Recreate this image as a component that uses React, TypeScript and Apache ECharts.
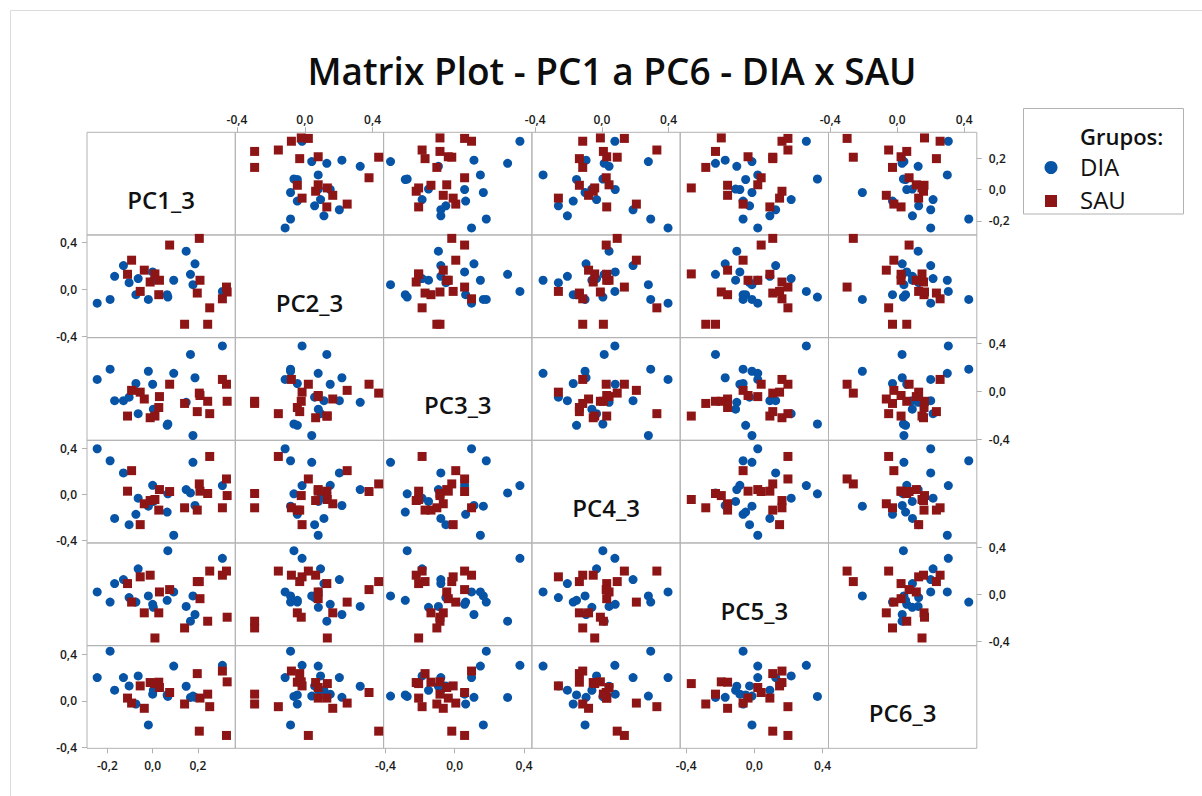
import React, { useEffect, useRef } from "react";
import * as echarts from "echarts";

// Variable names shown on the diagonal
const VARIABLES = ["PC1_3", "PC2_3", "PC3_3", "PC4_3", "PC5_3", "PC6_3"];

// Axis range of each variable (shared by its row and its column)
const RANGES: [number, number][] = [
  [-0.29, 0.365],
  [-0.41, 0.465],
  [-0.41, 0.445],
  [-0.42, 0.47],
  [-0.435, 0.435],
  [-0.41, 0.475],
];

// Tick values of each variable
const TICKS: number[][] = [
  [-0.2, 0, 0.2],
  [-0.4, 0, 0.4],
  [-0.4, 0, 0.4],
  [-0.4, 0, 0.4],
  [-0.4, 0, 0.4],
  [-0.4, 0, 0.4],
];

// Group DIA scores
const DIA_PC1 = [-0.245, -0.188, -0.168, -0.129, -0.104, -0.074, -0.064, -0.019, 0.0, 0.003, 0.064, 0.067, 0.093, 0.148, 0.167, 0.178, 0.187, 0.308];
const DIA_PC2 = [-0.116, -0.084, 0.113, 0.204, 0.058, -0.044, 0.093, -0.084, 0.15, 0.08, -0.044, -0.064, 0.079, 0.327, 0.13, 0.041, 0.219, -0.016];
const DIA_PC3 = [0.097, 0.182, -0.08, -0.08, -0.051, 0.063, -0.188, 0.165, 0.057, -0.151, -0.285, -0.274, 0.148, -0.094, 0.305, -0.37, 0.111, 0.376];
const DIA_PC4 = [0.397, 0.293, -0.207, 0.187, -0.261, -0.172, -0.032, -0.101, 0.08, -0.06, -0.152, 0.006, -0.353, 0.043, 0.014, 0.279, -0.095, 0.078];
const DIA_PC5 = [0.02, -0.066, 0.091, 0.125, -0.028, -0.066, 0.216, -0.014, -0.085, -0.11, -0.051, 0.37, 0.02, -0.103, -0.228, -0.014, -0.171, 0.305];
const DIA_PC6 = [0.2, 0.427, 0.091, 0.2, 0.128, -0.028, 0.214, -0.208, 0.057, 0.09, 0.05, 0.037, 0.299, 0.125, 0.029, 0.04, 0.03, 0.305];

// Group SAU scores
const SAU_PC1 = [-0.111, -0.093, -0.055, -0.037, -0.011, 0.01, 0.03, 0.027, 0.075, 0.141, 0.197, 0.206, 0.209, 0.243, 0.252, 0.308, 0.326, 0.329];
const SAU_PC2 = [0.13, 0.25, -0.016, 0.165, 0.064, 0.133, 0.079, -0.044, 0.379, -0.296, -0.03, 0.436, 0.079, -0.296, -0.156, -0.079, 0.021, -0.021];
const SAU_PC3 = [-0.208, 0.006, -0.009, -0.066, -0.222, -0.208, -0.046, -0.137, 0.057, -0.103, -0.171, -0.017, -0.037, -0.085, -0.188, 0.097, 0.057, -0.085];
const SAU_PC4 = [0.029, 0.207, -0.261, -0.08, -0.052, -0.043, 0.043, -0.135, 0.026, -0.115, -0.135, 0.092, 0.029, 0.009, 0.33, -0.115, 0.135, -0.009];
const SAU_PC5 = [0.091, -0.066, 0.148, -0.157, 0.162, -0.37, 0.02, -0.157, 0.04, -0.285, 0.108, 0.108, -0.037, -0.228, 0.197, 0.162, 0.197, -0.194];
const SAU_PC6 = [0.023, -0.02, 0.128, -0.065, 0.157, 0.148, 0.114, 0.16, 0.071, -0.028, 0.234, -0.262, 0.023, 0.057, -0.051, 0.256, -0.299, 0.163];

const DIA = [DIA_PC1, DIA_PC2, DIA_PC3, DIA_PC4, DIA_PC5, DIA_PC6];
const SAU = [SAU_PC1, SAU_PC2, SAU_PC3, SAU_PC4, SAU_PC5, SAU_PC6];

const GROUPS = ["DIA", "SAU"];

const BLUE = "#0754a6";
const RED = "#8e1515";
const FRAME = "#b2b2b2";
const FONT = "'Open Sans', 'Noto Sans', sans-serif";

// Matrix geometry
const X0 = 87;
const Y0 = 132.3;
const CW = 148.3;
const CH = 102.67;
const N = 6;

const fmt = (v: number) =>
  Math.abs(v) < 1e-9 ? "0,0" : v.toFixed(1).replace(".", ",");

export default function App() {
  const ref = useRef<HTMLDivElement>(null);

  useEffect(() => {
    document.body.style.margin = "0";
    const chart = echarts.init(ref.current!, null, { renderer: "svg" });

    const grids: any[] = [];
    const xAxes: any[] = [];
    const yAxes: any[] = [];
    const series: any[] = [];
    const graphics: any[] = [];

    const labelStyle = {
      fontFamily: FONT,
      fontSize: 12,
      fontWeight: 600,
      color: "#1a1a1a",
    };

    for (let r = 0; r < N; r++) {
      for (let c = 0; c < N; c++) {
        const idx = r * N + c;
        grids.push({
          left: X0 + c * CW,
          top: Y0 + r * CH,
          width: CW,
          height: CH,
          show: true,
          borderColor: FRAME,
          borderWidth: 1,
          backgroundColor: "transparent",
        });

        const showTop = r === 0 && c % 2 === 1;
        const showBottom = r === N - 1 && c % 2 === 0;
        const showX = showTop || showBottom;
        xAxes.push({
          gridIndex: idx,
          type: "value",
          min: RANGES[c][0],
          max: RANGES[c][1],
          position: r === 0 ? "top" : "bottom",
          show: showX,
          axisLine: { show: false, onZero: false },
          splitLine: { show: false },
          axisTick: {
            show: showX,
            inside: false,
            length: 5,
            customValues: TICKS[c],
            lineStyle: { color: FRAME },
          },
          axisLabel: {
            show: showX,
            margin: showTop ? 7 : 11,
            customValues: TICKS[c],
            formatter: fmt,
            ...labelStyle,
          },
        });

        const showLeft = c === 0 && r % 2 === 1;
        const showRight = c === N - 1 && r % 2 === 0;
        const showY = showLeft || showRight;
        yAxes.push({
          gridIndex: idx,
          type: "value",
          min: RANGES[r][0],
          max: RANGES[r][1],
          position: c === 0 ? "left" : "right",
          show: showY,
          axisLine: { show: false, onZero: false },
          splitLine: { show: false },
          axisTick: {
            show: showY,
            inside: false,
            length: 5,
            customValues: TICKS[r],
            lineStyle: { color: FRAME },
          },
          axisLabel: {
            show: showY,
            margin: showLeft ? 10 : 12,
            customValues: TICKS[r],
            formatter: fmt,
            ...labelStyle,
          },
        });

        if (r === c) {
          graphics.push({
            type: "text",
            x: X0 + c * CW + CW / 2,
            y: Y0 + r * CH + CH / 2 + 16,
            style: {
              text: VARIABLES[r],
              fontFamily: FONT,
              fontSize: 24,
              fontWeight: 600,
              fill: "#111",
              textAlign: "center",
              textVerticalAlign: "middle",
            },
          });
          continue;
        }

        series.push({
          type: "scatter",
          name: GROUPS[0],
          xAxisIndex: idx,
          yAxisIndex: idx,
          symbol: "circle",
          symbolSize: 9,
          itemStyle: { color: BLUE, opacity: 1 },
          z: 2,
          data: DIA[c].map((v, k) => [v, DIA[r][k]]),
        });
        series.push({
          type: "scatter",
          name: GROUPS[1],
          xAxisIndex: idx,
          yAxisIndex: idx,
          symbol: "rect",
          symbolSize: 9,
          itemStyle: { color: RED, opacity: 1 },
          z: 3,
          data: SAU[c].map((v, k) => [v, SAU[r][k]]),
        });
      }
    }

    // Title
    graphics.push({
      type: "text",
      x: 612,
      y: 70,
      style: {
        text: "Matrix Plot - PC1 a PC6 - DIA x SAU",
        fontFamily: FONT,
        fontSize: 37,
        fontWeight: 600,
        fill: "#0d0d0d",
        textAlign: "center",
        textVerticalAlign: "middle",
      },
    });

    // Legend: box, heading and the two group keys
    graphics.push({
      type: "rect",
      shape: { x: 1023.5, y: 108.5, width: 160, height: 105.5 },
      style: { fill: "#fff", stroke: FRAME, lineWidth: 1 },
      z: 0,
    });
    const legendText = (text: string, y: number, size: number, weight: number) => ({
      type: "text",
      x: 1080,
      y,
      style: {
        text,
        fontFamily: FONT,
        fontSize: size,
        lineHeight: size + 2,
        fontWeight: weight,
        fill: "#111",
        textVerticalAlign: "middle",
      },
    });
    graphics.push(legendText("Grupos:", 136, 22, 600));
    graphics.push(legendText(GROUPS[0], 166, 24, 500));
    graphics.push(legendText(GROUPS[1], 199, 24, 500));
    graphics.push({
      type: "circle",
      shape: { cx: 1051, cy: 167.5, r: 6.5 },
      style: { fill: BLUE },
    });
    graphics.push({
      type: "rect",
      shape: { x: 1045, y: 195, width: 12, height: 12 },
      style: { fill: RED },
    });

    // Outer frame of the figure (top and left edges)
    graphics.push({
      type: "polyline",
      shape: { points: [[10.5, 796], [10.5, 10.5], [1202, 10.5]] },
      style: { fill: "none", stroke: "#dcdcdc", lineWidth: 1 },
      z: -1,
    });

    chart.setOption({
      animation: false,
      tooltip: { show: false },
      grid: grids,
      xAxis: xAxes,
      yAxis: yAxes,
      series,
      graphic: graphics,
    });

    return () => chart.dispose();
  }, []);

  return <div ref={ref} style={{ width: 1202, height: 796 }} />;
}
